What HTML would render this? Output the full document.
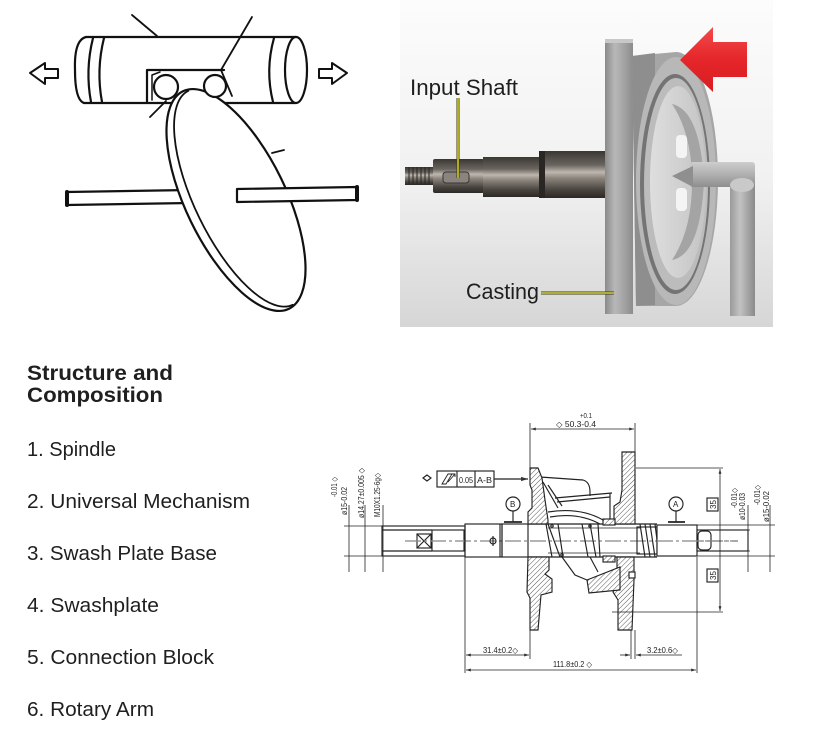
<!DOCTYPE html>
<html><head><meta charset="utf-8"><style>
html,body{margin:0;padding:0;background:#fff;}
svg{display:block;}
</style></head><body>
<svg width="818" height="735" viewBox="0 0 818 735" xmlns="http://www.w3.org/2000/svg">
<defs>
  <linearGradient id="bg" x1="0" y1="0" x2="0" y2="1">
    <stop offset="0" stop-color="#fcfcfc"/><stop offset="0.55" stop-color="#f1f1f1"/><stop offset="1" stop-color="#d6d6d6"/>
  </linearGradient>
  <linearGradient id="shaft" x1="0" y1="0" x2="0" y2="1">
    <stop offset="0" stop-color="#3a3632"/><stop offset="0.3" stop-color="#6b6560"/><stop offset="0.45" stop-color="#bdb7af"/><stop offset="0.58" stop-color="#8a847c"/><stop offset="0.82" stop-color="#4a4540"/><stop offset="1" stop-color="#2c2825"/>
  </linearGradient>
  <linearGradient id="flange" x1="0" y1="0" x2="1" y2="0">
    <stop offset="0" stop-color="#8a8a8a"/><stop offset="0.35" stop-color="#b8b8b8"/><stop offset="0.7" stop-color="#a2a2a2"/><stop offset="1" stop-color="#8c8c8c"/>
  </linearGradient>
  <linearGradient id="tubeH" x1="0" y1="0" x2="0" y2="1">
    <stop offset="0" stop-color="#cdcdcd"/><stop offset="0.5" stop-color="#b0b0b0"/><stop offset="1" stop-color="#8e8e8e"/>
  </linearGradient>
  <linearGradient id="tubeV" x1="0" y1="0" x2="1" y2="0">
    <stop offset="0" stop-color="#9a9a9a"/><stop offset="0.4" stop-color="#c2c2c2"/><stop offset="1" stop-color="#8a8a8a"/>
  </linearGradient>
  <linearGradient id="red" x1="0" y1="0" x2="0" y2="1">
    <stop offset="0" stop-color="#f24a4c"/><stop offset="0.5" stop-color="#e5262a"/><stop offset="1" stop-color="#d81d22"/>
  </linearGradient>
  <linearGradient id="face" x1="0" y1="0" x2="1" y2="0">
    <stop offset="0" stop-color="#dedede"/><stop offset="1" stop-color="#c4c4c4"/>
  </linearGradient>
  <pattern id="h" width="3.5" height="3.5" patternUnits="userSpaceOnUse" patternTransform="rotate(45)">
    <rect width="3.5" height="3.5" fill="#fff"/><line x1="0" y1="0" x2="0" y2="3.5" stroke="#444" stroke-width="0.9"/>
  </pattern>
  <marker id="ar" viewBox="0 0 10 6" refX="10" refY="3" markerWidth="6" markerHeight="4" orient="auto-start-reverse">
    <path d="M0,0 L10,3 L0,6 Z" fill="#333"/>
  </marker>
  <clipPath id="pc"><rect x="400" y="0" width="373" height="327"/></clipPath>
</defs>

<!-- ============ LEFT SKETCH ============ -->
<g fill="none" stroke="#111" stroke-width="2.2" stroke-linecap="round" stroke-linejoin="round">
  <path d="M86,37 L296,37 M84,103 L296,103" />
  <path d="M86,37 Q74,40 75,70 Q75,100 84,103" />
  <ellipse cx="296" cy="70" rx="11" ry="33" fill="#fff"/>
  <path d="M93,38 Q85,70 91,102 M104,38 Q96,70 102,102" />
  <path d="M274,38 Q265,70 273,102" />
  <path d="M147,103 L147,70 L224,70" />
  <path d="M152,100 L152,75 L160,72" stroke-width="1.5"/>
  <path d="M132,15 L157,36" stroke-width="1.8"/>
  <path d="M252,17 L221,70 L232,96" stroke-width="1.8"/>
  <path d="M150,117 L166,101" stroke-width="1.8"/>
  <path d="M67,192 L190,190 L190,203 L67,205 Z" fill="#fff"/>
  <path d="M67,192 L67,205" stroke-width="4"/>
  <g transform="translate(236,200) rotate(-26)">
    <ellipse cx="0" cy="0" rx="50" ry="121" fill="#fff"/>
    <path d="M5,-119 A45,117 0 0 0 5,119" stroke-width="1.8"/>
  </g>
  <circle cx="166" cy="87" r="12" fill="#fff"/>
  <circle cx="215" cy="86" r="11" fill="#fff"/>
  <path d="M272,153 L284,150" stroke-width="1.8"/>
  <path d="M237,189 L357,187 L357,200 L237,202 Z" fill="#fff"/>
  <path d="M357,187 L357,200" stroke-width="4"/>
  <path d="M30,73 L45,63 L45,69 L58,69 L58,78 L45,78 L45,84 Z" stroke-width="2"/>
  <path d="M347,73 L332,63 L332,69 L319,69 L319,78 L332,78 L332,84 Z" stroke-width="2"/>
</g>

<!-- ============ PHOTO ============ -->
<g clip-path="url(#pc)">
  <rect x="400" y="0" width="373" height="327" fill="url(#bg)"/>
  <rect x="405" y="167" width="30" height="18" fill="url(#shaft)"/>
  <g stroke="#2a2623" stroke-width="1">
    <line x1="409" y1="167" x2="409" y2="185"/><line x1="413" y1="167" x2="413" y2="185"/><line x1="417" y1="167" x2="417" y2="185"/><line x1="421" y1="167" x2="421" y2="185"/><line x1="425" y1="167" x2="425" y2="185"/><line x1="429" y1="167" x2="429" y2="185"/>
  </g>
  <rect x="433" y="159" width="51" height="34" rx="2" fill="url(#shaft)"/>
  <rect x="443" y="172" width="26" height="11" rx="3" fill="#8a847e" stroke="#3a3632"/>
  <rect x="483" y="157" width="58" height="40" fill="url(#shaft)"/>
  <rect x="539" y="151" width="68" height="47" fill="url(#shaft)"/>
  <rect x="539" y="151" width="6" height="47" fill="#2a2623"/>
  <!-- flange -->
  <rect x="605" y="39" width="28" height="275" fill="url(#flange)"/>
  <rect x="605" y="39" width="28" height="4" fill="#c8c8c8"/>
  <!-- disc -->
  <path d="M632,56 L676,52 A42,127 0 0 1 676,306 L636,306 Z" fill="#a6a6a6"/>
  <path d="M632,56 L655,53 L655,305 L636,306 Z" fill="#8e8e8e"/>
  <ellipse cx="676" cy="181" rx="40" ry="124" fill="#b8b8b8"/>
  <ellipse cx="675" cy="184" rx="35" ry="110" fill="#747474"/>
  <ellipse cx="676" cy="184" rx="32" ry="106" fill="#bcbcbc"/>
  <ellipse cx="678" cy="182" rx="28" ry="96" fill="url(#face)"/>
  <path d="M672,104 Q700,110 704,182 Q700,255 672,260 Q692,230 692,182 Q692,134 672,104 Z" fill="#a4a4a4"/>
  <rect x="676" y="135" width="11" height="23" rx="4" fill="#f4f4f4"/>
  <rect x="676" y="188" width="11" height="23" rx="4" fill="#f4f4f4"/>
  <!-- tube -->
  <rect x="730" y="176" width="25" height="140" fill="url(#tubeV)"/>
  <rect x="690" y="162" width="65" height="25" rx="3" fill="url(#tubeH)"/>
  <path d="M672,176 L693,166 L693,187 Z" fill="#8f8f8f"/>
  <ellipse cx="742" cy="185" rx="12" ry="7" fill="#c9c9c9"/>
  <!-- red arrow -->
  <path d="M680,60 L713,27 L713,42 L747,42 L747,77 L713,77 L713,92 Z" fill="url(#red)"/>
  <!-- labels -->
  <line x1="458" y1="98" x2="458" y2="178" stroke="#3a3a10" stroke-width="3"/>
  <line x1="458" y1="98" x2="458" y2="178" stroke="#e2dc2a" stroke-width="1.4"/>
  <line x1="541" y1="293" x2="614" y2="293" stroke="#3a3a10" stroke-width="3"/>
  <line x1="541" y1="293" x2="614" y2="293" stroke="#d8d24a" stroke-width="1.4"/>
  <text x="410" y="95" font-family="Liberation Sans, sans-serif" font-size="22" fill="#1e1e1e" textLength="108" lengthAdjust="spacingAndGlyphs">Input Shaft</text>
  <text x="466" y="299" font-family="Liberation Sans, sans-serif" font-size="22" fill="#1e1e1e" textLength="73" lengthAdjust="spacingAndGlyphs">Casting</text>
</g>

<!-- ============ TEXT LIST ============ -->
<g font-family="Liberation Sans, sans-serif" fill="#1f1f1f">
  <text x="27" y="380" font-size="21.5" font-weight="bold" textLength="146" lengthAdjust="spacingAndGlyphs">Structure and</text>
  <text x="27" y="402" font-size="21.5" font-weight="bold" textLength="136" lengthAdjust="spacingAndGlyphs">Composition</text>
  <text x="27" y="456" font-size="20.5" textLength="89" lengthAdjust="spacingAndGlyphs">1. Spindle</text>
  <text x="27" y="508" font-size="20.5" textLength="223" lengthAdjust="spacingAndGlyphs">2. Universal Mechanism</text>
  <text x="27" y="560" font-size="20.5" textLength="190" lengthAdjust="spacingAndGlyphs">3. Swash Plate Base</text>
  <text x="27" y="612" font-size="20.5" textLength="132" lengthAdjust="spacingAndGlyphs">4. Swashplate</text>
  <text x="27" y="664" font-size="20.5" textLength="187" lengthAdjust="spacingAndGlyphs">5. Connection Block</text>
  <text x="27" y="716" font-size="20.5" textLength="127" lengthAdjust="spacingAndGlyphs">6. Rotary Arm</text>
</g>

<!-- ============ TECHNICAL DRAWING ============ -->
<g fill="none" stroke="#222" stroke-width="1.15">
  <line x1="405" y1="541" x2="738" y2="541" stroke="#888" stroke-dasharray="16 3 3 3"/>
  <rect x="382" y="526" width="83" height="30" fill="#fff"/>
  <line x1="382" y1="530" x2="432" y2="530"/><line x1="382" y1="551" x2="432" y2="551"/>
  <rect x="432" y="530" width="32" height="21"/>
  <rect x="417" y="534" width="14" height="14"/>
  <path d="M417,534 L431,548 M431,534 L417,548"/>
  <line x1="405" y1="541" x2="465" y2="541" stroke="#888" stroke-dasharray="16 3 3 3"/>
  <rect x="465" y="524" width="37" height="33"/>
  <line x1="500" y1="524" x2="500" y2="557"/>
  <circle cx="493" cy="541" r="3"/><line x1="493" y1="536" x2="493" y2="546"/>
  <rect x="502" y="524" width="26" height="33"/>
  <line x1="528" y1="524" x2="657" y2="524"/><line x1="528" y1="557" x2="657" y2="557"/>
  <line x1="548" y1="528" x2="640" y2="528" stroke-width="0.8"/><line x1="548" y1="553" x2="640" y2="553" stroke-width="0.8"/>
  <path d="M540,477 L583,480 Q590,482 590,492"/>
  <path d="M543,482 L558,508"/>
  <path d="M548,485 L562,506"/>
  <path d="M555,498 L612,493"/>
  <path d="M557,502 L610,497"/>
  <path d="M548,512 Q580,507 603,520"/>
  <path d="M550,517 Q578,512 600,524"/>
  <line x1="590" y1="492" x2="590" y2="496"/>
  <line x1="610" y1="493" x2="610" y2="524"/>
  <path d="M546,524 L552,557 M548,524 L560,557 M558,524 L563,557"/>
  <path d="M582,524 L588,557 M590,524 L596,557 M598,524 L600,557"/>
  <circle cx="552" cy="526" r="1.2"/><circle cx="562" cy="555" r="1.2"/><circle cx="590" cy="526" r="1.2"/>
  <path d="M562,557 L575,575 L587,580"/>
  <path d="M590,557 L598,572"/>
  <path d="M530,468 L538,468 L542,478 L545,500 L548,520 L548,524 L528,524 L528,512 L532,508 L532,490 L530,485 Z" fill="url(#h)"/>
  <path d="M528,557 L549,557 L549,570 L545,574 L552,579 L552,592 L541,595 L538,630 L530,630 L530,598 L527,592 Z" fill="url(#h)"/>
  <path d="M622,452 L635,452 L635,524 L614,524 L614,506 L620,502 L622,490 Z" fill="url(#h)"/>
  <path d="M617,557 L634,557 L634,580 L632,630 L618,630 L618,600 L613,592 L617,585 Z" fill="url(#h)"/>
  <path d="M587,580 L620,567 L620,590 L589,593 Z" fill="url(#h)"/>
  <rect x="603" y="519" width="12" height="6" fill="url(#h)"/>
  <rect x="603" y="556" width="12" height="6" fill="url(#h)"/>
  <rect x="629" y="572" width="6" height="6" fill="#fff"/>
  <path d="M640,524 L645,557 M645,524 L650,557 M650,524 L655,557 M655,524 L657,540"/>
  <rect x="637" y="527" width="20" height="27"/>
  <rect x="657" y="525" width="40" height="31" fill="#fff"/>
  <rect x="697" y="530" width="51" height="21"/>
  <rect x="698" y="531" width="13" height="19" rx="4"/>
  <line x1="657" y1="541" x2="738" y2="541" stroke="#888" stroke-dasharray="16 3 3 3"/>
  <circle cx="513" cy="504" r="7" fill="#fff"/><line x1="513" y1="511" x2="513" y2="522"/><line x1="504" y1="522" x2="522" y2="522" stroke-width="1.8"/>
  <circle cx="676" cy="504" r="7" fill="#fff"/><line x1="676" y1="511" x2="676" y2="522"/><line x1="668" y1="522" x2="685" y2="522" stroke-width="1.8"/>
  <rect x="437" y="471" width="57" height="16" fill="#fff"/>
  <line x1="457" y1="471" x2="457" y2="487"/><line x1="475" y1="471" x2="475" y2="487"/>
  <path d="M442,484 L448,474 L452,474 L446,484 Z M448,482 L455,474 M452,474 L455,474 L455,477" stroke-width="0.9"/>
  <path d="M423,478 L427,475 L431,478 L427,481 Z"/>
  <line x1="494" y1="479" x2="528" y2="479" marker-end="url(#ar)"/>
  <line x1="530" y1="423" x2="530" y2="468" stroke-width="0.8"/>
  <line x1="635" y1="423" x2="635" y2="452" stroke-width="0.8"/>
  <line x1="531" y1="429" x2="634" y2="429" stroke-width="0.8" marker-start="url(#ar)" marker-end="url(#ar)"/>
  <path d="M344,526 L382,526 M344,556 L382,556" stroke-width="0.8"/>
  <line x1="349" y1="505" x2="349" y2="572" stroke-width="0.8"/>
  <line x1="365" y1="505" x2="365" y2="572" stroke-width="0.8"/>
  <line x1="383" y1="505" x2="383" y2="572" stroke-width="0.8"/>
  <line x1="636" y1="468" x2="723" y2="468" stroke-width="0.8"/>
  <line x1="612" y1="612" x2="723" y2="612" stroke-width="0.8"/>
  <line x1="720" y1="469" x2="720" y2="611" stroke-width="0.8" marker-start="url(#ar)" marker-end="url(#ar)"/>
  <rect x="707" y="498" width="11" height="13" fill="#fff"/>
  <rect x="707" y="569" width="11" height="13" fill="#fff"/>
  <path d="M697,530 L750,530 M697,551 L750,551 M697,525 L775,525 M697,556 L775,556" stroke-width="0.7"/>
  <line x1="748" y1="505" x2="748" y2="572" stroke-width="0.8"/>
  <line x1="770" y1="505" x2="770" y2="572" stroke-width="0.8"/>
  <line x1="465" y1="557" x2="465" y2="673" stroke-width="0.8"/>
  <line x1="697" y1="557" x2="697" y2="673" stroke-width="0.8"/>
  <line x1="530" y1="630" x2="530" y2="659" stroke-width="0.8"/>
  <line x1="631" y1="630" x2="631" y2="659" stroke-width="0.8"/>
  <line x1="635" y1="630" x2="635" y2="659" stroke-width="0.8"/>
  <line x1="466" y1="655" x2="529" y2="655" stroke-width="0.8" marker-start="url(#ar)" marker-end="url(#ar)"/>
  <line x1="620" y1="655" x2="630" y2="655" stroke-width="0.8" marker-end="url(#ar)"/>
  <line x1="636" y1="655" x2="682" y2="655" stroke-width="0.8" marker-start="url(#ar)"/>
  <line x1="466" y1="670" x2="696" y2="670" stroke-width="0.8" marker-start="url(#ar)" marker-end="url(#ar)"/>
</g>
<g font-family="Liberation Sans, sans-serif" fill="#222" font-size="8">
  <text x="580" y="418" font-size="7" textLength="12" lengthAdjust="spacingAndGlyphs">+0.1</text>
  <text x="556" y="427" textLength="40" lengthAdjust="spacingAndGlyphs">◇ 50.3-0.4</text>
  <text x="459" y="483" textLength="14" lengthAdjust="spacingAndGlyphs">0.05</text>
  <text x="477" y="483" textLength="15" lengthAdjust="spacingAndGlyphs">A-B</text>
  <text x="510" y="507">B</text>
  <text x="673" y="507">A</text>
  <text transform="translate(337,497) rotate(-90)" textLength="20" lengthAdjust="spacingAndGlyphs">-0.01 ◇</text>
  <text transform="translate(347,515) rotate(-90)" textLength="28" lengthAdjust="spacingAndGlyphs">ø15-0.02</text>
  <text transform="translate(364,518) rotate(-90)" textLength="50" lengthAdjust="spacingAndGlyphs">ø14.27±0.005 ◇</text>
  <text transform="translate(380,517) rotate(-90)" textLength="44" lengthAdjust="spacingAndGlyphs">M10X1.25-6g◇</text>
  <text transform="translate(737,508) rotate(-90)" textLength="20" lengthAdjust="spacingAndGlyphs">-0.01◇</text>
  <text transform="translate(745,520) rotate(-90)" textLength="27" lengthAdjust="spacingAndGlyphs">ø10-0.03</text>
  <text transform="translate(760,505) rotate(-90)" textLength="20" lengthAdjust="spacingAndGlyphs">-0.01◇</text>
  <text transform="translate(769,522) rotate(-90)" textLength="31" lengthAdjust="spacingAndGlyphs">ø15-0.02</text>
  <text transform="translate(716,509) rotate(-90)" textLength="9" lengthAdjust="spacingAndGlyphs">35</text>
  <text transform="translate(716,580) rotate(-90)" textLength="9" lengthAdjust="spacingAndGlyphs">35</text>
  <text x="483" y="653" textLength="35" lengthAdjust="spacingAndGlyphs">31.4±0.2◇</text>
  <text x="647" y="653" textLength="31" lengthAdjust="spacingAndGlyphs">3.2±0.6◇</text>
  <text x="553" y="667" textLength="39" lengthAdjust="spacingAndGlyphs">111.8±0.2 ◇</text>
</g>
</svg>
</body></html>
